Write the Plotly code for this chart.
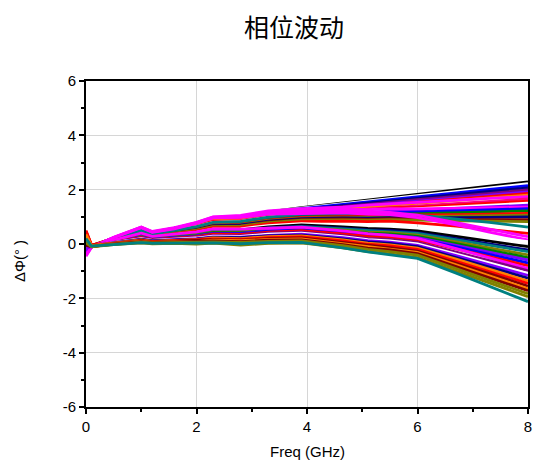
import plotly.graph_objects as go

freq = [0, 0.1, 0.5, 1.0, 1.2, 1.6, 2.0, 2.3, 2.8, 3.3, 3.9, 4.65, 5.1, 5.5, 6.0, 6.7, 7.3, 8.0]

series = [
    ("#000000", [0.10, -0.08, 0.22, 0.55, 0.42, 0.57, 0.74, 0.92, 0.98, 1.18, 1.34, 1.51, 1.62, 1.71, 1.83, 1.99, 2.13, 2.29]),
    ("#FFFFFF", [0.00, -0.10, 0.23, 0.58, 0.43, 0.58, 0.76, 0.95, 0.99, 1.18, 1.32, 1.48, 1.58, 1.67, 1.78, 1.93, 2.07, 2.22]),
    ("#0000FF", [0.20, -0.09, 0.23, 0.59, 0.43, 0.58, 0.76, 0.95, 0.98, 1.17, 1.30, 1.45, 1.55, 1.64, 1.73, 1.88, 2.01, 2.15]),
    ("#000080", [-0.10, -0.10, 0.22, 0.58, 0.42, 0.57, 0.74, 0.93, 0.96, 1.14, 1.27, 1.41, 1.50, 1.58, 1.68, 1.81, 1.93, 2.07]),
    ("#800080", [0.30, -0.07, 0.22, 0.57, 0.41, 0.56, 0.73, 0.91, 0.95, 1.13, 1.25, 1.38, 1.46, 1.54, 1.63, 1.75, 1.86, 1.99]),
    ("#8000FF", [-0.20, -0.10, 0.21, 0.56, 0.40, 0.55, 0.71, 0.89, 0.92, 1.10, 1.22, 1.35, 1.42, 1.49, 1.58, 1.70, 1.80, 1.92]),
    ("#FF0000", [0.45, -0.05, 0.21, 0.55, 0.40, 0.54, 0.70, 0.88, 0.91, 1.08, 1.20, 1.32, 1.39, 1.46, 1.54, 1.65, 1.75, 1.86]),
    ("#FF8000", [0.15, -0.08, 0.21, 0.54, 0.39, 0.53, 0.69, 0.86, 0.89, 1.06, 1.18, 1.29, 1.36, 1.42, 1.50, 1.60, 1.69, 1.80]),
    ("#FF00FF", [-0.40, -0.12, 0.25, 0.63, 0.46, 0.60, 0.80, 1.00, 1.05, 1.22, 1.30, 1.36, 1.43, 1.48, 1.53, 1.61, 1.68, 1.74]),
    ("#FF0080", [0.10, -0.09, 0.20, 0.52, 0.38, 0.51, 0.66, 0.83, 0.86, 1.03, 1.14, 1.23, 1.29, 1.34, 1.41, 1.49, 1.57, 1.66]),
    ("#FF0000", [0.35, -0.06, 0.19, 0.51, 0.37, 0.50, 0.65, 0.82, 0.84, 1.01, 1.12, 1.20, 1.25, 1.33, 1.35, 1.43, 1.50, 1.58]),
    ("#FFFFFF", [0.00, -0.10, 0.19, 0.50, 0.36, 0.50, 0.64, 0.80, 0.83, 0.99, 1.10, 1.17, 1.22, 1.26, 1.30, 1.37, 1.43, 1.50]),
    ("#8000FF", [-0.15, -0.10, 0.18, 0.49, 0.35, 0.48, 0.62, 0.78, 0.80, 0.96, 1.07, 1.13, 1.17, 1.21, 1.25, 1.31, 1.37, 1.43]),
    ("#FF00FF", [-0.45, -0.12, 0.24, 0.62, 0.45, 0.58, 0.78, 0.97, 1.00, 1.16, 1.22, 1.27, 1.26, 1.30, 1.29, 1.31, 1.33, 1.36]),
    ("#0000FF", [0.05, -0.08, 0.18, 0.48, 0.34, 0.47, 0.60, 0.76, 0.78, 0.94, 1.04, 1.09, 1.12, 1.16, 1.17, 1.22, 1.26, 1.30]),
    ("#008000", [0.20, -0.07, 0.17, 0.46, 0.33, 0.45, 0.58, 0.73, 0.75, 0.90, 1.00, 1.04, 1.06, 1.09, 1.11, 1.15, 1.18, 1.22]),
    ("#FF0000", [0.40, -0.05, 0.17, 0.45, 0.32, 0.44, 0.57, 0.72, 0.73, 0.88, 0.98, 1.01, 1.02, 1.06, 1.06, 1.08, 1.10, 1.13]),
    ("#808000", [-0.05, -0.09, 0.16, 0.44, 0.31, 0.43, 0.55, 0.69, 0.71, 0.86, 0.95, 0.97, 0.98, 1.00, 1.01, 1.03, 1.04, 1.06]),
    ("#000080", [-0.10, -0.10, 0.16, 0.43, 0.31, 0.42, 0.54, 0.68, 0.70, 0.84, 0.93, 0.96, 0.95, 0.97, 0.96, 0.97, 0.98, 1.00]),
    ("#800000", [0.10, -0.08, 0.15, 0.42, 0.30, 0.41, 0.52, 0.66, 0.67, 0.81, 0.90, 0.92, 0.91, 0.93, 0.91, 0.90, 0.90, 0.90]),
    ("#808000", [0.00, -0.09, 0.15, 0.41, 0.29, 0.40, 0.51, 0.64, 0.66, 0.79, 0.88, 0.89, 0.88, 0.90, 0.87, 0.85, 0.84, 0.82]),
    ("#008080", [0.25, -0.07, 0.19, 0.50, 0.36, 0.50, 0.64, 0.80, 0.83, 0.99, 1.10, 1.14, 1.12, 1.12, 1.06, 0.93, 0.80, 0.62]),
    ("#FF0000", [0.50, -0.04, 0.13, 0.38, 0.27, 0.37, 0.47, 0.60, 0.61, 0.74, 0.82, 0.84, 0.82, 0.84, 0.78, 0.66, 0.53, 0.39]),
    ("#FF00FF", [-0.35, -0.12, 0.24, 0.62, 0.44, 0.58, 0.79, 0.99, 1.02, 1.15, 1.18, 1.22, 1.18, 1.16, 1.06, 0.80, 0.55, 0.27]),
    ("#FF00FF", [-0.30, -0.11, 0.23, 0.60, 0.43, 0.56, 0.76, 0.96, 0.98, 1.10, 1.12, 1.15, 1.10, 1.08, 0.97, 0.70, 0.44, 0.15]),
    ("#FFFFFF", [0.00, -0.10, 0.12, 0.35, 0.25, 0.34, 0.43, 0.55, 0.56, 0.68, 0.75, 0.69, 0.64, 0.61, 0.57, 0.41, 0.26, 0.09]),
    ("#000000", [0.15, -0.08, 0.11, 0.33, 0.23, 0.32, 0.40, 0.51, 0.52, 0.63, 0.70, 0.63, 0.57, 0.55, 0.48, 0.28, 0.11, -0.10]),
    ("#000080", [-0.05, -0.10, 0.10, 0.31, 0.22, 0.30, 0.38, 0.48, 0.48, 0.59, 0.66, 0.58, 0.52, 0.50, 0.42, 0.20, 0.01, -0.22]),
    ("#008080", [-0.20, -0.10, 0.10, 0.30, 0.21, 0.29, 0.36, 0.47, 0.47, 0.58, 0.64, 0.56, 0.49, 0.45, 0.39, 0.16, -0.04, -0.28]),
    ("#808000", [0.10, -0.08, 0.09, 0.28, 0.20, 0.27, 0.34, 0.44, 0.44, 0.54, 0.60, 0.51, 0.44, 0.42, 0.33, 0.08, -0.14, -0.40]),
    ("#008000", [0.30, -0.06, 0.08, 0.27, 0.19, 0.26, 0.32, 0.42, 0.41, 0.51, 0.57, 0.47, 0.40, 0.37, 0.28, 0.01, -0.22, -0.50]),
    ("#8000FF", [-0.25, -0.10, 0.08, 0.26, 0.18, 0.24, 0.30, 0.39, 0.39, 0.49, 0.54, 0.45, 0.36, 0.33, 0.23, -0.05, -0.30, -0.59]),
    ("#0000FF", [0.00, -0.09, 0.07, 0.25, 0.17, 0.23, 0.29, 0.38, 0.38, 0.47, 0.52, 0.41, 0.32, 0.28, 0.19, -0.11, -0.38, -0.70]),
    ("#FF0000", [0.45, -0.05, 0.07, 0.24, 0.16, 0.22, 0.27, 0.36, 0.35, 0.44, 0.49, 0.37, 0.28, 0.25, 0.14, -0.18, -0.46, -0.80]),
    ("#FF00FF", [-0.40, -0.11, 0.14, 0.40, 0.28, 0.36, 0.45, 0.56, 0.55, 0.58, 0.62, 0.48, 0.38, 0.32, 0.21, -0.17, -0.50, -0.90]),
    ("#800080", [0.10, -0.08, 0.06, 0.21, 0.15, 0.20, 0.24, 0.32, 0.31, 0.40, 0.44, 0.31, 0.21, 0.17, 0.06, -0.30, -0.61, -0.98]),
    ("#FFFFFF", [0.00, -0.10, 0.05, 0.20, 0.13, 0.18, 0.22, 0.29, 0.28, 0.36, 0.40, 0.27, 0.16, 0.11, 0.00, -0.37, -0.70, -1.08]),
    ("#8000FF", [-0.15, -0.10, 0.04, 0.18, 0.12, 0.16, 0.20, 0.26, 0.25, 0.32, 0.36, 0.23, 0.12, 0.07, -0.05, -0.43, -0.76, -1.16]),
    ("#000080", [0.05, -0.09, 0.04, 0.17, 0.11, 0.15, 0.18, 0.24, 0.23, 0.30, 0.33, 0.19, 0.08, 0.02, -0.10, -0.50, -0.85, -1.26]),
    ("#FF8000", [0.25, -0.07, 0.03, 0.15, 0.10, 0.14, 0.16, 0.22, 0.20, 0.27, 0.30, 0.15, 0.03, -0.03, -0.15, -0.56, -0.93, -1.36]),
    ("#FF0000", [0.40, -0.05, 0.02, 0.13, 0.09, 0.12, 0.14, 0.19, 0.17, 0.23, 0.26, 0.11, -0.01, -0.07, -0.20, -0.63, -1.01, -1.45]),
    ("#800000", [-0.05, -0.10, 0.01, 0.12, 0.07, 0.10, 0.11, 0.16, 0.14, 0.20, 0.22, 0.06, -0.06, -0.13, -0.26, -0.70, -1.09, -1.55]),
    ("#FF8000", [0.35, -0.06, 0.01, 0.10, 0.06, 0.09, 0.09, 0.14, 0.12, 0.17, 0.19, 0.02, -0.10, -0.18, -0.31, -0.77, -1.17, -1.65]),
    ("#800000", [0.00, -0.09, 0.00, 0.09, 0.05, 0.07, 0.07, 0.11, 0.09, 0.14, 0.15, -0.02, -0.15, -0.22, -0.35, -0.82, -1.23, -1.72]),
    ("#808000", [0.15, -0.08, -0.01, 0.07, 0.04, 0.05, 0.05, 0.08, 0.06, 0.10, 0.11, -0.06, -0.20, -0.28, -0.41, -0.90, -1.33, -1.83]),
    ("#808000", [0.05, -0.10, -0.02, 0.04, 0.01, 0.02, 0.00, 0.03, -0.04, 0.02, 0.04, -0.14, -0.28, -0.36, -0.50, -0.99, -1.43, -1.94]),
    ("#008080", [0.20, -0.08, -0.02, 0.05, 0.02, 0.03, 0.02, 0.04, 0.01, 0.05, 0.06, -0.14, -0.29, -0.40, -0.53, -1.07, -1.55, -2.12]),
]

x_ticks = [0, 2, 4, 6, 8]
x_ticktext = ["0", "2", "4", "6", "8"]
y_ticks = [-6, -4, -2, 0, 2, 4, 6]
y_ticktext = ["-6", "-4", "-2", "0", "2", "4", "6"]

fig = go.Figure()
for color, vals in series:
    fig.add_trace(go.Scatter(x=freq, y=vals, mode="lines",
                             line=dict(color=color, width=2.8), showlegend=False,
                             hoverinfo="skip"))

axis_common = dict(
    showline=True, linecolor="black", linewidth=2, mirror=True,
    ticks="outside", ticklen=5, tickwidth=2, tickcolor="black",
    showgrid=True, gridcolor="#d6d6d6", gridwidth=1, zeroline=False,
    tickfont=dict(family="Liberation Sans, Arial", size=15, color="#000000"),
    minor=dict(ticks="outside", ticklen=3, tickwidth=2, tickcolor="black", showgrid=False),
)

fig.update_xaxes(range=[0, 8], tickvals=x_ticks, ticktext=x_ticktext,
                 minor_dtick=1, minor_tick0=0, **axis_common)
fig.update_yaxes(range=[-6, 6], tickvals=y_ticks, ticktext=y_ticktext,
                 minor_dtick=1, minor_tick0=0, **axis_common)

fig.update_layout(
    template="none",
    width=538, height=462,
    margin=dict(l=86, r=10, t=81, b=55),
    plot_bgcolor="white", paper_bgcolor="white",
    font=dict(family="Liberation Sans, Arial", color="#000000"),
    title=dict(text="相位波动", x=294/538, y=1-28/462, xanchor="center", yanchor="middle",
               font=dict(family="Noto Sans CJK SC", size=25, color="#000000")),
    annotations=[
        dict(text="Freq (GHz)", xref="paper", yref="paper", x=0.5, y=-0.138,
             xanchor="center", yanchor="middle", showarrow=False,
             font=dict(family="Liberation Sans, Arial", size=15, color="#000000")),
        dict(text="ΔΦ(° )", xref="paper", yref="paper", x=-0.152, y=0.447,
             xanchor="center", yanchor="middle", showarrow=False, textangle=-90,
             font=dict(family="Liberation Sans, Arial", size=15, color="#000000")),
    ],
)

fig.write_html("out.html", config={"displayModeBar": False},
               post_script="document.body.style.margin='0px';document.body.style.overflow='hidden';")
